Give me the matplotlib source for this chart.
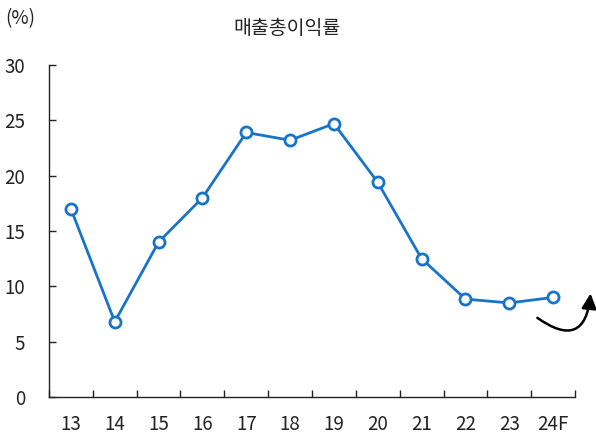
import numpy as np
import matplotlib.pyplot as plt
from matplotlib.ticker import FixedLocator

plt.rcParams['font.family'] = ['Noto Sans CJK KR', 'DejaVu Sans']

# Data
years = ["13", "14", "15", "16", "17", "18", "19", "20", "21", "22", "23", "24F"]
gross_margin = [17.0, 6.8, 14.0, 18.0, 23.9, 23.2, 24.7, 19.4, 12.5, 8.85, 8.5, 9.0]

line_color = "#1874c8"

fig = plt.figure(figsize=(5.96, 4.37), dpi=100)
ax = fig.add_axes([0.0822, 0.0915, 0.8826, 0.7598])

x = np.arange(len(years))
ax.plot(x, gross_margin, color=line_color, linewidth=2.0, marker="o",
        markersize=8, markerfacecolor="white", markeredgecolor=line_color,
        markeredgewidth=2.0, zorder=3)

ax.set_xlim(-0.5, len(years) - 0.5)
ax.set_ylim(0, 30)
ax.set_yticks(np.arange(0, 31, 5))

ax.set_xticks(x)
ax.set_xticklabels(years)
ax.xaxis.set_minor_locator(FixedLocator(np.arange(-0.5, len(years), 1)))
ax.tick_params(axis="x", which="major", length=0, pad=12, labelsize=13.5, colors="#222222")
ax.tick_params(axis="x", which="minor", direction="in", length=5, width=1, color="#222222")
ax.tick_params(axis="y", direction="in", length=5, width=1, pad=17, labelsize=13.5,
               colors="#222222")

for side in ["top", "right"]:
    ax.spines[side].set_visible(False)
for side in ["left", "bottom"]:
    ax.spines[side].set_color("#222222")
    ax.spines[side].set_linewidth(1)

fig.text(0.482, 0.935, "매출총이익률", ha="center", va="center", fontsize=14, color="#222222")
fig.text(0.008, 0.958, "(%)", ha="left", va="center", fontsize=13.5, color="#222222")

# upward arrow next to the forecast point
ax.annotate("", xy=(11.86, 9.6), xytext=(10.59, 7.3),
            arrowprops=dict(arrowstyle="-|>,head_length=0.9,head_width=0.45",
                            color="black", linewidth=1.8,
                            connectionstyle="arc3,rad=0.9"),
            annotation_clip=False)

fig.savefig("out.png", dpi=100)
